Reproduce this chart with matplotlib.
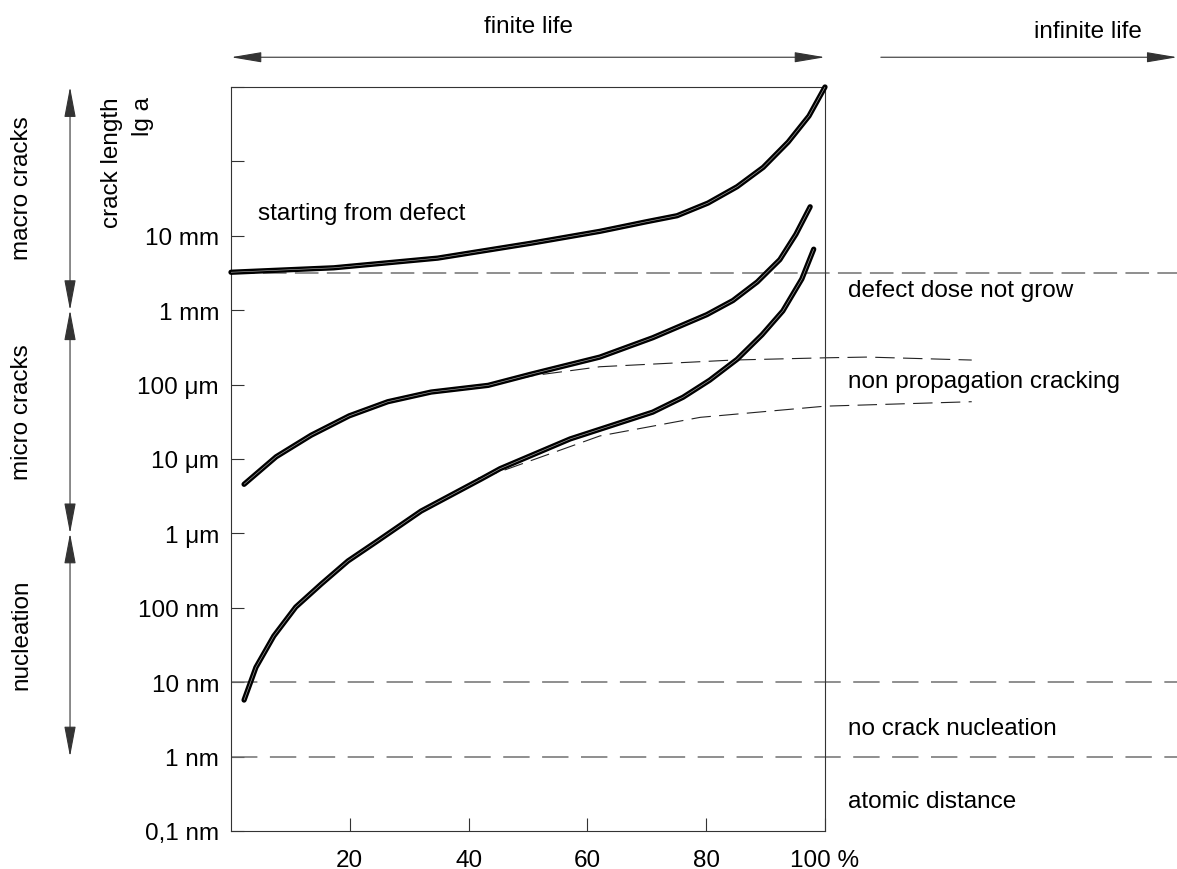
"""Crack length growth over fatigue life (schematic, log crack length)."""

import matplotlib

matplotlib.use("Agg")
import matplotlib.pyplot as plt
import matplotlib.transforms as mtransforms

plt.rcParams["font.family"] = ["Liberation Sans", "DejaVu Sans"]
plt.rcParams["lines.scale_dashes"] = False

FONT_SIZE = 17.5

# life fraction in %, crack length as lg a (a in metres)
defect_x = [0, 17.3, 34.8, 50.5, 62.1, 70.0, 75.1, 80.3, 85.2, 89.6, 93.8, 97.3, 100]
defect_lg = [-2.49, -2.43, -2.30, -2.10, -1.94, -1.81, -1.73, -1.56, -1.34, -1.08, -0.74, -0.39, 0.0]

micro_x = [2.2, 7.6, 13.5, 19.9, 26.4, 33.7, 43.3, 50.5, 62.1, 71.0, 80.1, 84.5, 88.6, 92.4, 95.1, 97.5]
micro_lg = [-5.34, -4.97, -4.68, -4.42, -4.23, -4.10, -4.01, -3.86, -3.63, -3.37, -3.06, -2.87,
            -2.62, -2.32, -1.98, -1.61]

nucl_x = [2.2, 4.2, 7.2, 10.9, 15.2, 19.7, 24.7, 32.0, 42.1, 45.3, 57.1, 71.0, 76.1, 80.6, 85.2,
          89.4, 92.9, 96.1, 98.1]
nucl_lg = [-8.24, -7.80, -7.38, -6.99, -6.68, -6.37, -6.10, -5.70, -5.27, -5.13, -4.73, -4.37,
           -4.17, -3.94, -3.66, -3.33, -3.01, -2.58, -2.18]

# non-propagating crack branches
arrest_upper_x = [43.3, 50.8, 62.1, 84.5, 100, 107.1, 124.7]
arrest_upper_lg = [-4.01, -3.88, -3.76, -3.67, -3.64, -3.63, -3.67]
arrest_lower_x = [41.6, 45.3, 62.1, 79.0, 100, 124.7]
arrest_lower_lg = [-5.26, -5.17, -4.69, -4.44, -4.29, -4.23]

# threshold levels (lg a)
defect_level = -2.5
nucleation_level = -8.0
atomic_level = -9.0

y_ticks = [-10, -9, -8, -7, -6, -5, -4, -3, -2, -1, 0]
y_tick_labels = ["0,1 nm", "1 nm", "10 nm", "100 nm", "1 \u03bcm", "10 \u03bcm", "100 \u03bcm",
                 "1 mm", "10 mm", "", ""]
x_ticks = [20, 40, 60, 80, 100]
x_tick_labels = ["20", "40", "60", "80", "100 %"]

regions = ["macro cracks", "micro cracks", "nucleation"]
region_bounds = [(0, -3), (-3, -6), (-6, -9)]

fig = plt.figure(figsize=(11.77, 8.70), dpi=100)
ax = fig.add_axes([231 / 1177, 38 / 870, 594 / 1177, 744 / 870])
ax.set_xlim(0, 100)
ax.set_ylim(-10, 0)

for spine in ax.spines.values():
    spine.set_color("#333333")
    spine.set_linewidth(0.8)

ax.set_yticks(y_ticks, y_tick_labels)
ax.set_xticks(x_ticks, x_tick_labels)
ax.tick_params(axis="both", direction="in", length=9.5, width=0.8, color="#333333",
               labelsize=FONT_SIZE)
ax.tick_params(axis="y", pad=8.6)
ax.tick_params(axis="x", pad=13)

# threshold lines reach to the right edge of the figure
x_edge = 1177 / 594 - 231 / 594
for level, dashes in [(defect_level, (17, 6)), (nucleation_level, (19, 9)),
                      (atomic_level, (19, 9))]:
    line = ax.axhline(level, xmin=0, xmax=x_edge, color="#707070", lw=1.1, clip_on=False)
    line.set_dashes(dashes)

for xs, ys in [(arrest_upper_x, arrest_upper_lg), (arrest_lower_x, arrest_lower_lg)]:
    (line,) = ax.plot(xs, ys, color="#222222", lw=0.8, clip_on=False)
    line.set_dashes((14, 6))


def double_line(xs, ys):
    ax.plot(xs, ys, color="black", lw=3.8, solid_capstyle="round",
            solid_joinstyle="round", clip_on=False, zorder=4)
    ax.plot(xs, ys, color="#a8a8a8", lw=0.45, solid_capstyle="butt", clip_on=False, zorder=5)


double_line(defect_x, defect_lg)
double_line(micro_x, micro_lg)
double_line(nucl_x, nucl_lg)

# annotations
ax.text(4.5, -1.774, "starting from defect", fontsize=FONT_SIZE, va="baseline")
ax.text(103.9, -2.81, "defect dose not grow", fontsize=FONT_SIZE, va="baseline", clip_on=False)
ax.text(103.9, -4.03, "non propagation cracking", fontsize=FONT_SIZE, va="baseline")
ax.text(103.9, -8.70, "no crack nucleation", fontsize=FONT_SIZE, va="baseline")
ax.text(103.9, -9.68, "atomic distance", fontsize=FONT_SIZE, va="baseline")

top = mtransforms.blended_transform_factory(ax.transData, ax.transAxes)
side = mtransforms.blended_transform_factory(ax.transAxes, ax.transData)

arrow_kw = dict(mutation_scale=10, color="#333333", lw=0.8, shrinkA=0, shrinkB=0)
ax.annotate("", xy=(100, 1.040), xytext=(0, 1.040), xycoords=top, textcoords=top,
            arrowprops=dict(arrowstyle="<|-|>,head_length=1.9,head_width=0.32", **arrow_kw))
ax.annotate("", xy=(159.3, 1.040), xytext=(109.4, 1.040), xycoords=top, textcoords=top,
            arrowprops=dict(arrowstyle="-|>,head_length=1.9,head_width=0.32", **arrow_kw))
ax.text(50, 1.074, "finite life", transform=top, ha="center", va="baseline",
        fontsize=FONT_SIZE)
ax.text(144.3, 1.067, "infinite life", transform=top, ha="center", va="baseline",
        fontsize=FONT_SIZE)

for name, (hi, lo) in zip(regions, region_bounds):
    ax.annotate("", xy=(-0.271, lo), xytext=(-0.271, hi), xycoords=side, textcoords=side,
                arrowprops=dict(arrowstyle="<|-|>,head_length=1.9,head_width=0.36",
                                **arrow_kw))
    ax.text(-0.352, (hi + lo) / 2 + 0.15, name, transform=side, rotation=90,
            ha="center", va="center", fontsize=FONT_SIZE)

ax.text(-0.200, -0.12, "crack length", transform=side, rotation=90, ha="center", va="top",
        fontsize=FONT_SIZE)
ax.text(-0.148, -0.12, "lg a", transform=side, rotation=90, ha="center", va="top",
        fontsize=FONT_SIZE)

fig.savefig("out.png", dpi=100)
